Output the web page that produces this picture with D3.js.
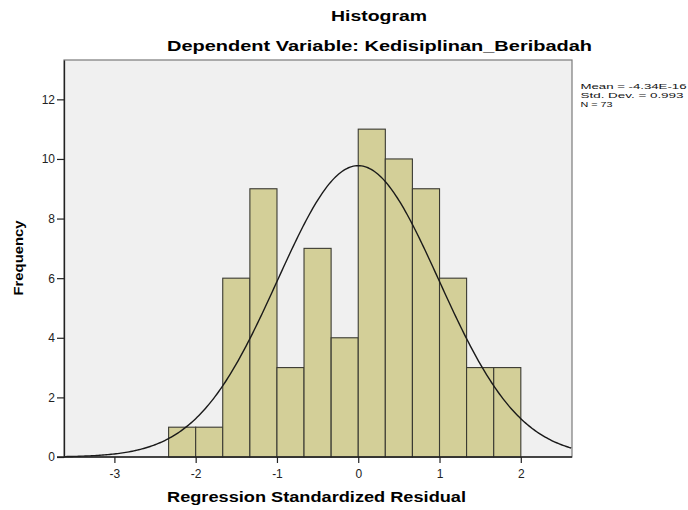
<!DOCTYPE html>
<html>
<head>
<meta charset="utf-8">
<script src="https://cdn.jsdelivr.net/npm/d3@7"></script>
<style>
  body { margin: 0; background: #fff; }
  text { font-family: "Liberation Sans", Arial, sans-serif; }
</style>
</head>
<body>
<svg width="688" height="510"></svg>
<script>
// histogram bins (left edges) and counts
var binStarts = [-2.333, -2.0, -1.667, -1.333, -1.0, -0.667, -0.333, 0.0, 0.333, 0.667, 1.0, 1.333, 1.667];
var binWidth = 1 / 3;
var counts = [1, 1, 6, 9, 3, 7, 4, 11, 10, 9, 6, 3, 3];
var xTicks = [-3, -2, -1, 0, 1, 2];
var yTicks = [0, 2, 4, 6, 8, 10, 12];
var statMean = -4.34e-16, statSd = 0.993;
var statLines = ["Mean = -4.34E-16", "Std. Dev. = 0.993", "N = 73"];

var svg = d3.select("svg");
var pLeft = 64, pRight = 572, pTop = 60, pBottom = 457;

var x = d3.scaleLinear().domain([-3.62, 2.63]).range([pLeft, pRight]);
var y = d3.scaleLinear().domain([0, 13.32]).range([pBottom, pTop]);

// plot background
svg.append("rect")
  .attr("x", pLeft).attr("y", pTop)
  .attr("width", pRight - pLeft).attr("height", pBottom - pTop)
  .attr("fill", "#f0f0f0")
  .attr("stroke", "#7a7a7a")
  .attr("stroke-width", 1.2);

// bars
svg.append("g").selectAll("rect")
  .data(counts)
  .enter().append("rect")
  .attr("x", function(d, i) { return x(binStarts[i]); })
  .attr("width", function(d, i) { return x(binStarts[i] + binWidth) - x(binStarts[i]); })
  .attr("y", function(d) { return y(d); })
  .attr("height", function(d) { return pBottom - y(d); })
  .attr("fill", "#d3cf98")
  .attr("stroke", "#3a3a32")
  .attr("stroke-width", 1.1);

// normal curve
var total = d3.sum(counts);
var pts = d3.range(-3.62, 2.64, 0.02).map(function(v) {
  var z = (v - statMean) / statSd;
  return [v, total * binWidth * Math.exp(-0.5 * z * z) / (statSd * Math.sqrt(2 * Math.PI))];
});
svg.append("path")
  .datum(pts)
  .attr("fill", "none")
  .attr("stroke", "#1a1a1a")
  .attr("stroke-width", 1.4)
  .attr("d", d3.line().x(function(d) { return x(d[0]); }).y(function(d) { return y(d[1]); }));

// axes
var fmt = function(d) { return String(d); };
var xAxis = svg.append("g")
  .attr("transform", "translate(0," + pBottom + ")")
  .call(d3.axisBottom(x).tickValues(xTicks).tickSize(6).tickSizeOuter(0).tickFormat(fmt));
var yAxis = svg.append("g")
  .attr("transform", "translate(" + pLeft + ",0)")
  .call(d3.axisLeft(y).tickValues(yTicks).tickSize(7).tickSizeOuter(0).tickFormat(fmt));

[xAxis, yAxis].forEach(function(a) {
  a.select(".domain").attr("stroke", "#222").attr("stroke-width", 1.3);
  a.selectAll(".tick line").attr("stroke", "#222").attr("stroke-width", 1.2);
  a.selectAll(".tick text").attr("fill", "#222").style("font-size", "12px")
    .style("font-family", "'Liberation Sans', Arial, sans-serif");
});
xAxis.select(".domain").attr("d", "M" + (pLeft - 7) + ",0H" + pRight);
xAxis.selectAll(".tick text").attr("y", 21).attr("dy", null);
yAxis.selectAll(".tick text").attr("x", -9);

// titles (the original type is set wide, so widths are matched)
svg.append("text")
  .attr("x", 331).attr("y", 21)
  .attr("textLength", 96).attr("lengthAdjust", "spacingAndGlyphs")
  .style("font-size", "15.5px").style("font-weight", "bold")
  .text("Histogram");
svg.append("text")
  .attr("x", 167).attr("y", 50.5)
  .attr("textLength", 425).attr("lengthAdjust", "spacingAndGlyphs")
  .style("font-size", "15.5px").style("font-weight", "bold")
  .text("Dependent Variable: Kedisiplinan_Beribadah");

svg.append("text")
  .attr("x", 167).attr("y", 502)
  .attr("textLength", 299).attr("lengthAdjust", "spacingAndGlyphs")
  .style("font-size", "15px").style("font-weight", "bold")
  .text("Regression Standardized Residual");

svg.append("text")
  .attr("transform", "translate(23," + ((pTop + pBottom) / 2 + 37) + ") rotate(-90)")
  .attr("textLength", 75).attr("lengthAdjust", "spacingAndGlyphs")
  .style("font-size", "13.5px").style("font-weight", "bold")
  .text("Frequency");

// stats legend
var statWidths = [106, 103, 32];
svg.append("g").selectAll("text")
  .data(statLines)
  .enter().append("text")
  .attr("x", 580.5)
  .attr("y", function(d, i) { return 89 + i * 9.2; })
  .attr("textLength", function(d, i) { return statWidths[i]; })
  .attr("lengthAdjust", "spacingAndGlyphs")
  .style("font-size", "8px")
  .attr("fill", "#111")
  .text(function(d) { return d; });
</script>
</body>
</html>
